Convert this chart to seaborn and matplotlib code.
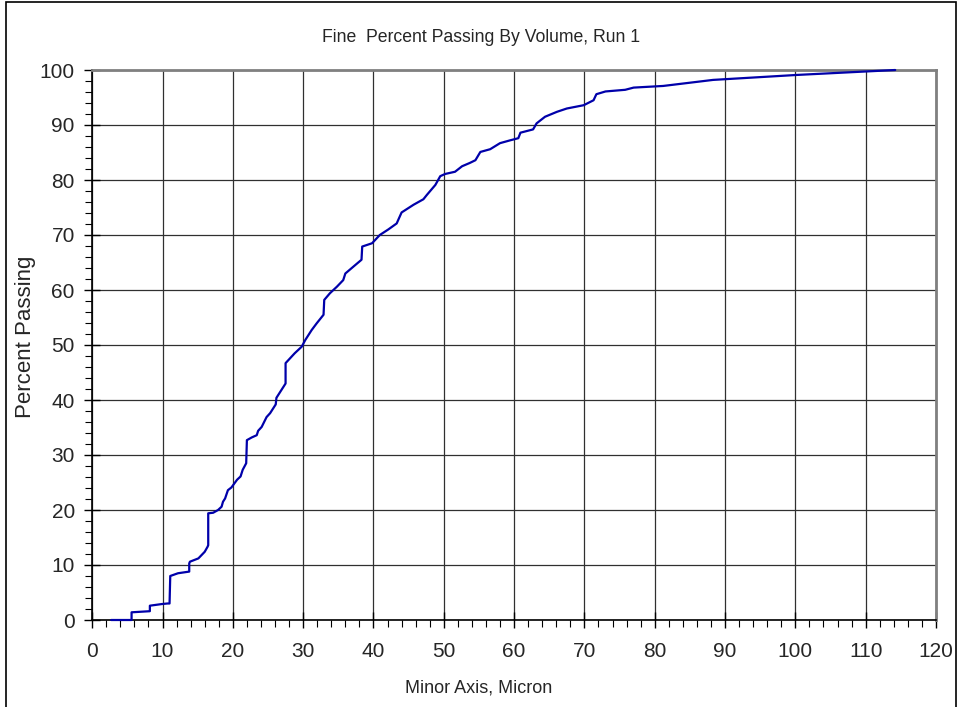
import matplotlib
matplotlib.use("Agg")
import matplotlib.pyplot as plt
import seaborn as sns
import pandas as pd
from matplotlib.ticker import MultipleLocator
from matplotlib.patches import Rectangle

minor_axis_micron = [2.7, 5.6, 5.6, 8.2, 8.2, 9.9, 10.7, 11.0, 11.1, 12.2, 13.8, 13.8, 13.9,
                     15.1, 16.0, 16.4, 16.5, 16.5, 17.2, 17.9, 18.4, 18.6, 18.9, 19.3, 19.8,
                     20.6, 21.1, 21.4, 21.9, 22.0, 22.7, 23.4, 23.6, 24.1, 24.8, 25.3, 26.1,
                     26.2, 27.2, 27.5, 27.5, 28.8, 29.8, 30.3, 31.2, 31.9, 32.9, 33.0, 33.8,
                     34.8, 35.7, 36.0, 37.1, 38.3, 38.4, 39.8, 40.9, 42.1, 43.3, 44.0, 45.7,
                     47.1, 47.6, 48.8, 49.5, 50.2, 51.6, 52.6, 53.7, 54.5, 55.2, 56.6, 58.0,
                     59.4, 60.6, 60.9, 62.7, 63.2, 64.4, 66.1, 67.5, 69.9, 71.3, 71.7, 73.0,
                     75.8, 77.0, 81.2, 88.3, 100.2, 114.2]
percent_passing = [0.0, 0.0, 1.4, 1.6, 2.6, 2.9, 3.0, 3.0, 8.0, 8.5, 8.8, 10.3, 10.6,
                   11.2, 12.4, 13.3, 13.6, 19.4, 19.5, 20.0, 20.6, 21.5, 22.1, 23.6, 24.1,
                   25.5, 26.1, 27.3, 28.5, 32.7, 33.2, 33.6, 34.4, 35.1, 36.9, 37.6, 39.2,
                   40.4, 42.4, 43.0, 46.7, 48.5, 49.7, 50.9, 52.7, 53.9, 55.5, 58.2, 59.4,
                   60.6, 61.8, 63.0, 64.2, 65.5, 67.9, 68.5, 70.0, 71.0, 72.1, 74.1, 75.5,
                   76.5, 77.3, 79.1, 80.7, 81.1, 81.5, 82.5, 83.1, 83.6, 85.1, 85.6, 86.7,
                   87.2, 87.6, 88.6, 89.2, 90.3, 91.5, 92.4, 93.0, 93.6, 94.5, 95.6, 96.1,
                   96.4, 96.8, 97.1, 98.2, 99.1, 100.0]

title = "Fine  Percent Passing By Volume, Run 1"
xlabel = "Minor Axis, Micron"
ylabel = "Percent Passing"

df = pd.DataFrame({"x": minor_axis_micron, "y": percent_passing})

sns.set_style("white")
plt.rcParams["font.family"] = ["Liberation Sans", "DejaVu Sans"]

fig = plt.figure(figsize=(9.61, 7.07), dpi=100)
ax = fig.add_axes([92.2 / 961, 87 / 707, (936 - 92.2) / 961, 550 / 707])

sns.lineplot(data=df, x="x", y="y", ax=ax, sort=False, estimator=None,
             color="#0000AA", linewidth=1.6, zorder=5)
for ln in ax.lines:
    ln.set_clip_on(False)

ax.set_xlim(0, 120)
ax.set_ylim(0, 100)
ax.xaxis.set_major_locator(MultipleLocator(10))
ax.yaxis.set_major_locator(MultipleLocator(10))
ax.xaxis.set_minor_locator(MultipleLocator(2))
ax.yaxis.set_minor_locator(MultipleLocator(2))
ax.grid(True, which="major", color="#303030", linewidth=0.9)
ax.tick_params(axis="both", which="major", direction="inout", length=11, width=1,
               color="black", labelsize=15)
ax.tick_params(axis="x", which="major", pad=10)
ax.tick_params(axis="y", which="major", pad=7)
ax.tick_params(axis="both", which="minor", direction="out", length=5, width=0.8,
               color="black")
ax.tick_params(axis="x", which="both", bottom=True)
ax.tick_params(axis="y", which="both", left=True)
for s in ax.spines.values():
    s.set_color("#808080")
    s.set_linewidth(2)
ax.spines["bottom"].set_color("black")
ax.spines["bottom"].set_linewidth(1.2)
ax.spines["left"].set_color("black")
ax.spines["left"].set_linewidth(1.2)

ax.set_xlabel("")
ax.set_ylabel("")
fig.text(481 / 961, 1 - 38 / 707, title, ha="center", va="center", fontsize=12.7)
fig.text(479 / 961, 1 - 688 / 707, xlabel, ha="center", va="center", fontsize=13)
fig.text(26 / 961, 1 - 337 / 707, ylabel, ha="center", va="center", fontsize=16,
         rotation=90)

fig.patches.append(Rectangle((6 / 961, -0.01), (956 - 6) / 961, 1 - 2 / 707 + 0.01,
                             transform=fig.transFigure, fill=False,
                             edgecolor="black", linewidth=1.2))

fig.savefig("out.png", dpi=100)
